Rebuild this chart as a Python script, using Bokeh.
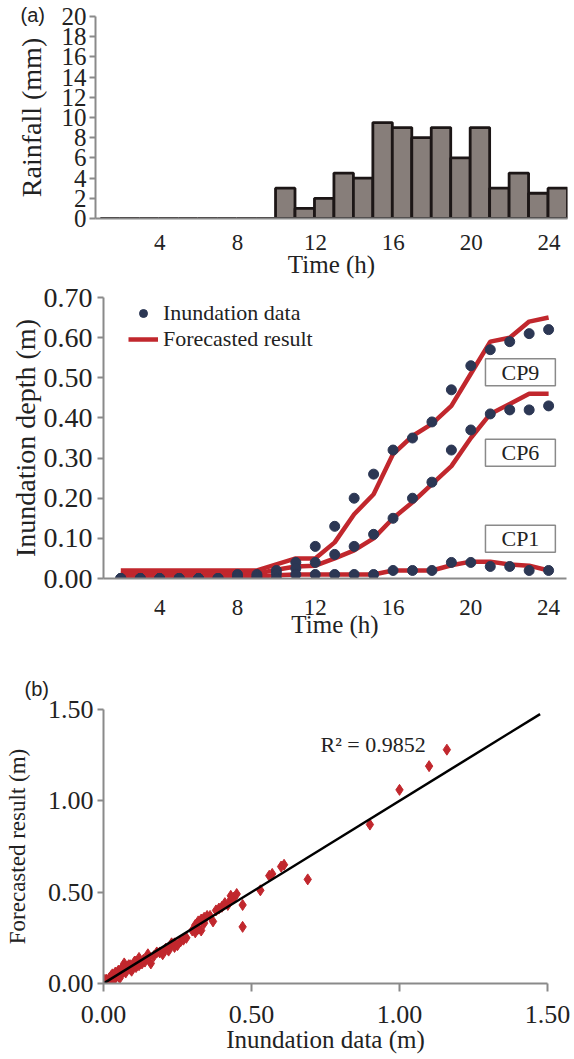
import numpy as np
from bokeh.plotting import figure
from bokeh.models import (Range1d, FixedTicker, PrintfTickFormatter, Label,
                          Legend, LegendItem)
from bokeh.embed import file_html
from bokeh.resources import INLINE

SERIF = "Liberation Serif"
SANS = "Liberation Sans"

# ---------------- data ----------------
# (a) rainfall hyetograph
rain_hours = list(range(1, 25))
rain_mm = [0, 0, 0, 0, 0, 0, 0, 0, 0, 3, 1, 2, 4.5, 4, 9.5, 9, 8, 9, 6, 9, 3, 4.5, 2.5, 3]
rain_ticks = [4, 8, 12, 16, 20, 24]

# inundation depth time series
hours = list(range(2, 25))
cp9_obs = [0, 0, 0, 0, 0, 0, 0.01, 0.01, 0.02, 0.04, 0.08, 0.13, 0.20, 0.26, 0.32, 0.35,
           0.39, 0.47, 0.53, 0.57, 0.59, 0.61, 0.62]
cp6_obs = [0, 0, 0, 0, 0, 0, 0.005, 0.005, 0.012, 0.025, 0.04, 0.06, 0.08, 0.11, 0.15, 0.20,
           0.24, 0.32, 0.37, 0.41, 0.42, 0.42, 0.43]
cp1_obs = [0, 0, 0, 0, 0, 0, 0, 0, 0, 0.01, 0.01, 0.01, 0.01, 0.01, 0.02, 0.02,
           0.02, 0.04, 0.04, 0.03, 0.03, 0.02, 0.02]
cp9_fc = [0.02] * 8 + [0.035, 0.05, 0.05, 0.09, 0.16, 0.21, 0.31, 0.355, 0.385, 0.43,
                       0.51, 0.59, 0.60, 0.64, 0.65]
cp6_fc = [0.012] * 8 + [0.022, 0.03, 0.032, 0.05, 0.07, 0.10, 0.15, 0.19, 0.235, 0.28,
                        0.35, 0.41, 0.435, 0.46, 0.46]
cp1_fc = [0.005] * 8 + [0.008, 0.01, 0.01, 0.01, 0.01, 0.01, 0.02, 0.02, 0.02, 0.033,
                        0.042, 0.042, 0.035, 0.032, 0.02]
cp_names = ["CP9", "CP6", "CP1"]
cp_label_x = 22.55
cp_label_y = [0.514, 0.313, 0.099]
depth_ticks = [0.0, 0.1, 0.2, 0.3, 0.4, 0.5, 0.6, 0.7]

# (b) scatter: inundation data vs forecasted result
obs_b = [0.00, 0.00, 0.01, 0.01, 0.01, 0.02, 0.02, 0.02, 0.03, 0.03, 0.03, 0.04, 0.04, 0.05,
         0.05, 0.06, 0.06, 0.07, 0.07, 0.08, 0.09, 0.09, 0.10, 0.11, 0.11, 0.12, 0.13, 0.14,
         0.15, 0.16, 0.19, 0.20, 0.22, 0.23, 0.24, 0.24, 0.26, 0.27, 0.31, 0.31, 0.32, 0.32,
         0.33, 0.33, 0.34, 0.36, 0.37, 0.38, 0.40, 0.41, 0.42, 0.43, 0.44, 0.45, 0.47, 0.47,
         0.53, 0.56, 0.57, 0.60, 0.61, 0.69, 0.90, 1.00, 1.10, 1.16,
         0.005, 0.015, 0.025, 0.035, 0.045, 0.055, 0.065, 0.075, 0.085, 0.095, 0.105, 0.12,
         0.135, 0.15, 0.17, 0.18, 0.21, 0.22, 0.25, 0.28, 0.30, 0.34, 0.35, 0.39, 0.43]
fc_b = [0.00, 0.01, 0.00, 0.02, 0.01, 0.03, 0.01, 0.02, 0.05, 0.02, 0.04, 0.03, 0.06, 0.04,
        0.07, 0.08, 0.05, 0.11, 0.07, 0.09, 0.10, 0.08, 0.10, 0.12, 0.09, 0.14, 0.11, 0.12,
        0.16, 0.11, 0.17, 0.16, 0.19, 0.22, 0.20, 0.22, 0.23, 0.24, 0.28, 0.32, 0.30, 0.34,
        0.29, 0.35, 0.36, 0.37, 0.34, 0.40, 0.42, 0.44, 0.43, 0.46, 0.47, 0.49, 0.43, 0.31,
        0.51, 0.59, 0.60, 0.64, 0.65, 0.57, 0.87, 1.06, 1.19, 1.28,
        0.02, 0.005, 0.04, 0.02, 0.055, 0.03, 0.09, 0.06, 0.10, 0.07, 0.12, 0.10,
        0.13, 0.14, 0.15, 0.17, 0.19, 0.18, 0.21, 0.25, 0.29, 0.33, 0.37, 0.41, 0.48]
trend_slope = 1.0
trend_x = [0.0, 1.475]
r2_text = "R\u00b2 = 0.9852"
b_ticks = [0.0, 0.5, 1.0, 1.5]

# ---------------- styles ----------------
AXIS_GRAY = "#8a8a8a"
TEXT = "#222222"
RED = "#c1272d"
NAVY = "#2c3754"
BAR_FILL = "#877e7a"
BAR_LINE = "#1c1616"
BAR_SHIFT = 0.45
W = 570


def make_fig(height, xr, yr, left, right, top, bottom):
    p = figure(width=W, height=height, x_range=xr, y_range=yr,
               output_backend="svg", toolbar_location=None,
               min_border_left=left, min_border_right=right,
               min_border_top=top, min_border_bottom=bottom)
    p.outline_line_color = None
    p.xgrid.visible = False
    p.ygrid.visible = False
    for ax in (p.xaxis[0], p.yaxis[0]):
        ax.axis_line_color = AXIS_GRAY
        ax.axis_line_width = 2
        ax.major_tick_line_color = AXIS_GRAY
        ax.major_tick_line_width = 2
        ax.major_tick_in = 0
        ax.minor_tick_line_color = None
        ax.major_label_text_font = SERIF
        ax.major_label_text_color = TEXT
        ax.axis_label_text_font = SERIF
        ax.axis_label_text_color = TEXT
        ax.axis_label_text_font_style = "normal"
    return p


def panel_tag(p, text, offset, standoff, valign):
    p.title.text = text
    p.title.align = "left"
    p.title.offset = offset
    p.title.standoff = standoff
    p.title.vertical_align = valign
    p.title.text_font = SANS
    p.title.text_font_size = "20px"
    p.title.text_font_style = "normal"
    p.title.text_color = TEXT


# ---------------- (a) top: rainfall ----------------
p1 = make_fig(280, Range1d(0.7, 24.95), Range1d(0, 20), 95, 3, 16, 60)
p1.vbar(x=[h + BAR_SHIFT for h in rain_hours], top=rain_mm, width=1.0,
        fill_color=BAR_FILL, line_color=BAR_LINE, line_width=2.8)
p1.yaxis.ticker = FixedTicker(ticks=list(range(0, 21, 2)))
p1.yaxis.major_tick_out = 6
p1.yaxis.major_label_text_font_size = "25px"
p1.yaxis.major_label_standoff = 3
p1.yaxis.axis_label = "Rainfall (mm)"
p1.yaxis.axis_label_text_font_size = "28px"
p1.yaxis.axis_label_standoff = 12
p1.xaxis.ticker = FixedTicker(ticks=rain_ticks)
p1.xaxis.major_tick_out = 0
p1.xaxis.major_label_text_font_size = "23px"
p1.xaxis.major_label_standoff = 16
p1.xaxis.axis_label = "Time (h)"
p1.xaxis.axis_label_text_font_size = "25px"
p1.xaxis.axis_label_standoff = -2
panel_tag(p1, "(a)", -75, -26, "top")

# ---------------- (a) middle: inundation depth ----------------
p2 = make_fig(360, Range1d(1.11, 24.92), Range1d(0, 0.7), 103, 4, 17, 61)
line_r = None
for fc in (cp9_fc, cp6_fc, cp1_fc):
    r = p2.line(hours, fc, line_color=RED, line_width=4.5)
    line_r = line_r or r
for obs in (cp9_obs, cp6_obs, cp1_obs):
    p2.scatter(hours, obs, size=10, fill_color=NAVY, line_color=NAVY)
dot_legend = p2.scatter(x=[np.nan], y=[np.nan], size=6, fill_color=NAVY, line_color=NAVY)
legend = Legend(items=[LegendItem(label="Inundation data", renderers=[dot_legend]),
                       LegendItem(label="Forecasted result", renderers=[line_r])],
                location=(25, 226), padding=0, margin=0, spacing=-10,
                glyph_width=30, glyph_height=20, label_height=20, label_standoff=5,
                label_text_font=SERIF, label_text_font_size="22px",
                label_text_color=TEXT, background_fill_alpha=0,
                border_line_color=None)
p2.add_layout(legend)
for name, ly in zip(cp_names, cp_label_y):
    p2.add_layout(Label(x=cp_label_x, y=ly, text=name, text_align="center",
                        text_baseline="middle", text_font=SERIF,
                        text_font_size="22px", text_color=TEXT,
                        border_line_color=AXIS_GRAY, border_line_width=1.5,
                        background_fill_color="white", padding=(16, 1)))
p2.yaxis.ticker = FixedTicker(ticks=depth_ticks)
p2.yaxis.formatter = PrintfTickFormatter(format="%.2f")
p2.yaxis.major_tick_out = 6
p2.yaxis.major_label_text_font_size = "28px"
p2.yaxis.major_label_standoff = 5
p2.yaxis.axis_label = "Inundation depth (m)"
p2.yaxis.axis_label_text_font_size = "28px"
p2.yaxis.axis_label_standoff = 0
p2.xaxis.ticker = FixedTicker(ticks=rain_ticks)
p2.xaxis.major_tick_out = 0
p2.xaxis.major_label_text_font_size = "23px"
p2.xaxis.major_label_standoff = 21
p2.xaxis.axis_label = "Time (h)"
p2.xaxis.axis_label_text_font_size = "25px"
p2.xaxis.axis_label_standoff = -7

# ---------------- (b) scatter ----------------
p3 = make_fig(419, Range1d(0, 1.5), Range1d(0, 1.5), 103, 23, 69, 76)
p3.scatter(obs_b, fc_b, marker="diamond", size=11, fill_color=RED, line_color=RED)
p3.line(trend_x, [trend_slope * v for v in trend_x], line_color="black", line_width=2.5)
p3.add_layout(Label(x=0.733, y=1.31, text=r2_text, text_font=SERIF, text_font_size="22px",
                    text_color=TEXT, text_baseline="middle"))
p3.xaxis.ticker = FixedTicker(ticks=b_ticks)
p3.yaxis.ticker = FixedTicker(ticks=b_ticks)
p3.xaxis.formatter = PrintfTickFormatter(format="%.2f")
p3.yaxis.formatter = PrintfTickFormatter(format="%.2f")
p3.xaxis.major_tick_out = 8
p3.yaxis.major_tick_out = 6
p3.xaxis.major_label_text_font_size = "26px"
p3.yaxis.major_label_text_font_size = "26px"
p3.xaxis.major_label_standoff = 14
p3.yaxis.major_label_standoff = 4
p3.xaxis.axis_label = "Inundation data (m)"
p3.yaxis.axis_label = "Forecasted result (m)"
p3.xaxis.axis_label_text_font_size = "25px"
p3.yaxis.axis_label_text_font_size = "23px"
p3.xaxis.axis_label_standoff = 0
p3.yaxis.axis_label_standoff = 15
panel_tag(p3, "(b)", -79, 20, "bottom")

open("out.html", "w").write(file_html([p1, p2, p3], INLINE))
